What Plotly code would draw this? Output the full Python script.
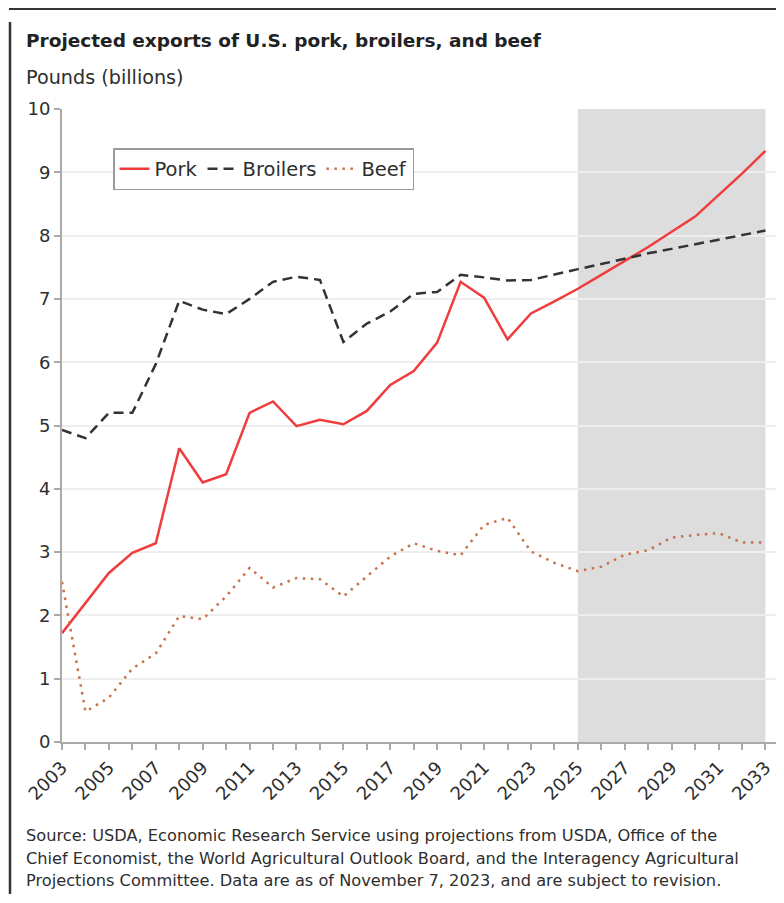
import plotly.graph_objects as go

years = list(range(2003, 2034))
pork = [1.72, 2.19, 2.67, 2.99, 3.14, 4.64, 4.10, 4.23, 5.20, 5.38, 4.99, 5.09, 5.02, 5.23, 5.64,
        5.86, 6.31, 7.27, 7.02, 6.36, 6.77, 6.96, 7.16, 7.38, 7.60, 7.82, 8.06, 8.30, 8.64, 8.98, 9.34]
broilers = [4.93, 4.80, 5.20, 5.20, 5.97, 6.97, 6.83, 6.76, 7.00, 7.27, 7.35, 7.30, 6.32, 6.61, 6.80,
            7.08, 7.11, 7.38, 7.34, 7.29, 7.30, 7.39, 7.47, 7.55, 7.64, 7.72, 7.79, 7.86, 7.93, 8.00, 8.08]
beef = [2.53, 0.48, 0.70, 1.16, 1.40, 1.99, 1.94, 2.30, 2.75, 2.44, 2.59, 2.57, 2.30, 2.61, 2.93,
        3.14, 3.02, 2.95, 3.43, 3.54, 3.01, 2.83, 2.70, 2.77, 2.96, 3.03, 3.23, 3.27, 3.30, 3.15, 3.15]
tick_years = list(range(2003, 2034, 2))
projection_start, projection_end = 2025, 2033

title = "Projected exports of U.S. pork, broilers, and beef"
y_label = "Pounds (billions)"
source_lines = [
    "Source: USDA, Economic Research Service using projections from USDA, Office of the",
    "Chief Economist, the World Agricultural Outlook Board, and the Interagency Agricultural",
    "Projections Committee. Data are as of November 7, 2023, and are subject to revision.",
]

# page has an 8px body margin; figure coords = page coords - 8
OFF = 8
W, H = 784 - 2 * OFF, 903 - 2 * OFF
L, R, T, B = 62 - OFF, 776 - OFF, 109 - OFF, 742 - OFF
pw, ph = R - L, B - T

def tx(page_x):
    return (page_x - OFF - L) / pw

def ty(page_y):
    return (B - (page_y - OFF)) / ph

FONT = "DejaVu Sans, sans-serif"
TXT = "#2e2e2e"
FRAME = dict(color="#333333", width=2.5)
fig = go.Figure()
fig.add_vrect(x0=projection_start, x1=projection_end, fillcolor="#dddddd", line_width=0, layer="below")

fig.add_trace(go.Scatter(x=years, y=pork, name="Pork", mode="lines",
                         line=dict(color="#f03c3c", width=2.5)))
fig.add_trace(go.Scatter(x=years, y=broilers, name="Broilers", mode="lines",
                         line=dict(color="#333333", width=2.5, dash="10px,6px")))
fig.add_trace(go.Scatter(x=years, y=beef, name="Beef", mode="lines",
                         line=dict(color="#c8714a", width=2.5, dash="2.5px,5.5px")))

axis_common = dict(showline=True, linecolor="#aaaaaa", linewidth=2, ticks="outside", ticklen=6,
                   tickcolor="#aaaaaa", tickwidth=1.5, zeroline=False, fixedrange=True,
                   tickfont=dict(size=18, color=TXT, family=FONT))

# left frame drawn as stacked short segments
frame_breaks = [9, 22, 35, 48, 60, 109, 300, 500, 742, 894]
frame_shapes = [
    dict(type="line", xref="paper", yref="paper", x0=tx(10), x1=tx(10), y0=ty(b), y1=ty(a), line=FRAME)
    for a, b in zip(frame_breaks[:-1], frame_breaks[1:])
]

fig.update_layout(
    width=W, height=H,
    margin=dict(l=L, r=W - R, t=T, b=H - B, pad=0),
    paper_bgcolor="white", plot_bgcolor="white",
    font=dict(family=FONT, color=TXT, size=16),
    showlegend=True,
    legend=dict(orientation="h", x=tx(113), y=ty(148), xanchor="left", yanchor="top",
                bordercolor="#9a9a9a", borderwidth=1.5, bgcolor="white",
                font=dict(size=19.5, color=TXT, family=FONT), itemwidth=30),
    xaxis=dict(range=[2003, 2033.45], tickvals=tick_years, ticktext=[str(y) for y in tick_years],
               tickangle=-45, showgrid=False,
               minor=dict(dtick=1, ticks="outside", ticklen=6, tickcolor="#aaaaaa", tickwidth=1.5),
               **axis_common),
    yaxis=dict(range=[0, 10], dtick=1, showgrid=True, gridcolor="#eeeeee", gridwidth=1.5,
               **axis_common),
    shapes=frame_shapes + [
        dict(type="line", xref="paper", yref="paper", x0=tx(9), x1=tx(784), y0=ty(9), y1=ty(9),
             line=dict(color="#333333", width=2)),
    ],
)

annotations = [
    dict(text=f"<b>{title}</b>", xref="paper", yref="paper", x=tx(24), y=ty(40),
         xanchor="left", yanchor="middle", showarrow=False,
         font=dict(size=18.5, color="#222222", family=FONT)),
    dict(text=y_label, xref="paper", yref="paper", x=tx(24), y=ty(77),
         xanchor="left", yanchor="middle", showarrow=False,
         font=dict(size=19.2, color=TXT, family=FONT)),
]
for line, yc in zip(source_lines, [835, 858, 880]):
    annotations.append(dict(text=line, xref="paper", yref="paper", x=tx(24), y=ty(yc),
                            xanchor="left", yanchor="middle", showarrow=False,
                            font=dict(size=16.2, color=TXT, family=FONT)))
fig.update_layout(annotations=annotations)

fig.write_html("out.html")
